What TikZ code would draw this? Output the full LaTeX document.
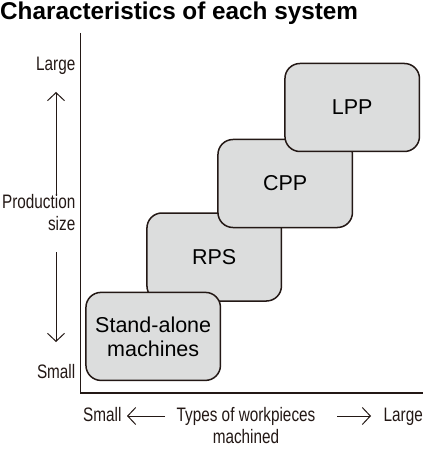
\documentclass[tikz,border=0pt]{standalone}
\usepackage{fontspec}
\setmainfont{Liberation Sans}
\newfontfamily\condfont[FakeStretch=0.785]{Liberation Sans}
\usetikzlibrary{arrows.meta}
\definecolor{ink}{HTML}{231815}
\definecolor{boxfill}{HTML}{DCDDDD}
\begin{document}
\begin{tikzpicture}[x=1pt,y=-1pt,
  sysbox/.style={draw=ink, fill=boxfill, line width=1.5pt, rounded corners=15pt,
    minimum width=134.5pt, minimum height=88pt, inner sep=0pt, align=center,
    font=\fontsize{21.5}{24}\selectfont, text=black},
  axlabel/.style={font=\condfont\fontsize{19.5}{22}\selectfont, text=ink, inner sep=0pt},
  axarrow/.style={draw=ink, line width=1pt, -{Straight Barb[length=8pt,width=17pt]}}]
\useasboundingbox (0,0) rectangle (423,454);
% title
\node[anchor=base west, inner sep=0pt, font=\bfseries\fontsize{24.3}{28}\selectfont, text=black] (title) at (0,20) {Characteristics of each system};
% axes
\coordinate (ytop) at (80.5,33);
\coordinate (origin) at (80.5,393);
\coordinate (xend) at (423,393);
\draw[ink, line width=1.2pt] (ytop) -- (origin) -- (xend);
% boxes
\node[sysbox] (rps) at (214.2,257) {RPS};
\node[sysbox] (sa) at (153.2,336.4) {Stand-alone\\machines};
\node[sysbox] (cpp) at (285.2,183.5) {CPP};
\node[sysbox] (lpp) at (352.2,107.5) {LPP};
% vertical axis labels
\node[axlabel, anchor=base east] (ylarge) at (75.5,71) {Large};
\node[axlabel, anchor=base east, align=right] (yprod) at (75.5,230) {Production\\size};
\node[axlabel, anchor=base east] (ysmall) at (75.5,378) {Small};
\coordinate (ua1) at (56,196);
\coordinate (ua2) at (56,92);
\coordinate (da1) at (56,252);
\coordinate (da2) at (56,342);
\draw[axarrow] (ua1) -- (ua2);
\draw[axarrow] (da1) -- (da2);
% horizontal axis labels
\node[axlabel, anchor=base west] (xsmall) at (83,421) {Small};
\node[axlabel, anchor=base, align=center] (xtypes) at (246,443) {Types of workpieces\\machined};
\node[axlabel, anchor=base east] (xlarge) at (423,421) {Large};
\coordinate (la1) at (165,416);
\coordinate (la2) at (127,416);
\coordinate (ra1) at (337,416);
\coordinate (ra2) at (371,416);
\draw[axarrow] (la1) -- (la2);
\draw[axarrow] (ra1) -- (ra2);
\end{tikzpicture}
\end{document}
